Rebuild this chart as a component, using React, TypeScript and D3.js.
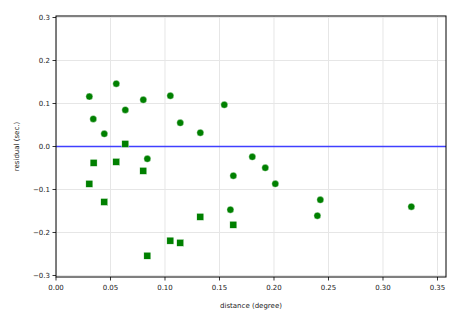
import React from "react";
import * as d3 from "d3";

const circleX = [0.0306, 0.0342, 0.0443, 0.0553, 0.0636, 0.0801, 0.0838, 0.1049, 0.114, 0.1324, 0.1544, 0.1627, 0.1801, 0.192, 0.2012, 0.160, 0.2425, 0.2398, 0.326];
const circleY = [0.116, 0.064, 0.0295, 0.146, 0.085, 0.1086, -0.0286, 0.118, 0.055, 0.032, 0.097, -0.068, -0.024, -0.0496, -0.0868, -0.147, -0.124, -0.161, -0.140];
const squareX = [0.0636, 0.0345, 0.0553, 0.0306, 0.0443, 0.0801, 0.0838, 0.1324, 0.1627, 0.1049, 0.114];
const squareY = [0.006, -0.038, -0.0357, -0.0868, -0.129, -0.0566, -0.254, -0.1636, -0.182, -0.219, -0.224];
const xTicks = [0, 0.05, 0.1, 0.15, 0.2, 0.25, 0.3, 0.35];
const yTicks = [-0.3, -0.2, -0.1, 0.0, 0.1, 0.2, 0.3];
const xLabel = "distance (degree)";
const yLabel = "residual (sec.)";

const W = 465, H = 315;
const L = 56, R = 446, T = 16, B = 277;

export default function App() {
  const x = d3.scaleLinear().domain([0, 0.3578]).range([L, R]);
  const y = d3.scaleLinear().domain([-0.3035, 0.3035]).range([B, T]);
  const fmtX = (v: number) => v.toFixed(2);
  const fmtY = (v: number) => v.toFixed(1).replace("-", "\u2212");
  const font = "DejaVu Sans, sans-serif";
  const green = "#008000";
  const sq = 7;
  return (
    <svg width={W} height={H} style={{ position: "absolute", left: 0, top: 0, background: "#fff" }} fontFamily={font}>
      <defs>
        <clipPath id="plot"><rect x={L} y={T} width={R - L} height={B - T} /></clipPath>
      </defs>
      <g clipPath="url(#plot)">
        {xTicks.map((t, i) => (
          <line key={"gx" + i} x1={x(t)} x2={x(t)} y1={T} y2={B} stroke="#e6e6e6" strokeWidth={1} />
        ))}
        {yTicks.map((t, i) => (
          <line key={"gy" + i} x1={L} x2={R} y1={y(t)} y2={y(t)} stroke="#e6e6e6" strokeWidth={1} />
        ))}
        <line x1={L} x2={R} y1={y(0)} y2={y(0)} stroke="#4040ff" strokeWidth={1.5} />
        {circleX.map((v, i) => (
          <circle key={"c" + i} cx={x(v)} cy={y(circleY[i])} r={3.5} fill={green} stroke="#fff" strokeWidth={0.4} />
        ))}
        {squareX.map((v, i) => (
          <rect key={"s" + i} x={x(v) - sq / 2} y={y(squareY[i]) - sq / 2} width={sq} height={sq} fill={green} stroke="#fff" strokeWidth={0.4} />
        ))}
      </g>
      <rect x={L} y={T} width={R - L} height={B - T} fill="none" stroke="#000" strokeWidth={1} />
      {xTicks.map((t, i) => (
        <g key={"tx" + i}>
          <line x1={x(t)} x2={x(t)} y1={B} y2={B + 3.5} stroke="#000" strokeWidth={0.8} />
          <text x={x(t)} y={B + 13} textAnchor="middle" fontSize={7} fill="#222">{fmtX(t)}</text>
        </g>
      ))}
      {yTicks.map((t, i) => (
        <g key={"ty" + i}>
          <line x1={L - 3.5} x2={L} y1={y(t)} y2={y(t)} stroke="#000" strokeWidth={0.8} />
          <text x={L - 6} y={y(t)} dy="0.35em" textAnchor="end" fontSize={7} fill="#222">{fmtY(t)}</text>
        </g>
      ))}
      <text x={(L + R) / 2} y={307.5} textAnchor="middle" fontSize={7} fill="#222">{xLabel}</text>
      <text transform={`translate(18.5, ${(T + B) / 2}) rotate(-90)`} textAnchor="middle" fontSize={7} fill="#222">{yLabel}</text>
    </svg>
  );
}
